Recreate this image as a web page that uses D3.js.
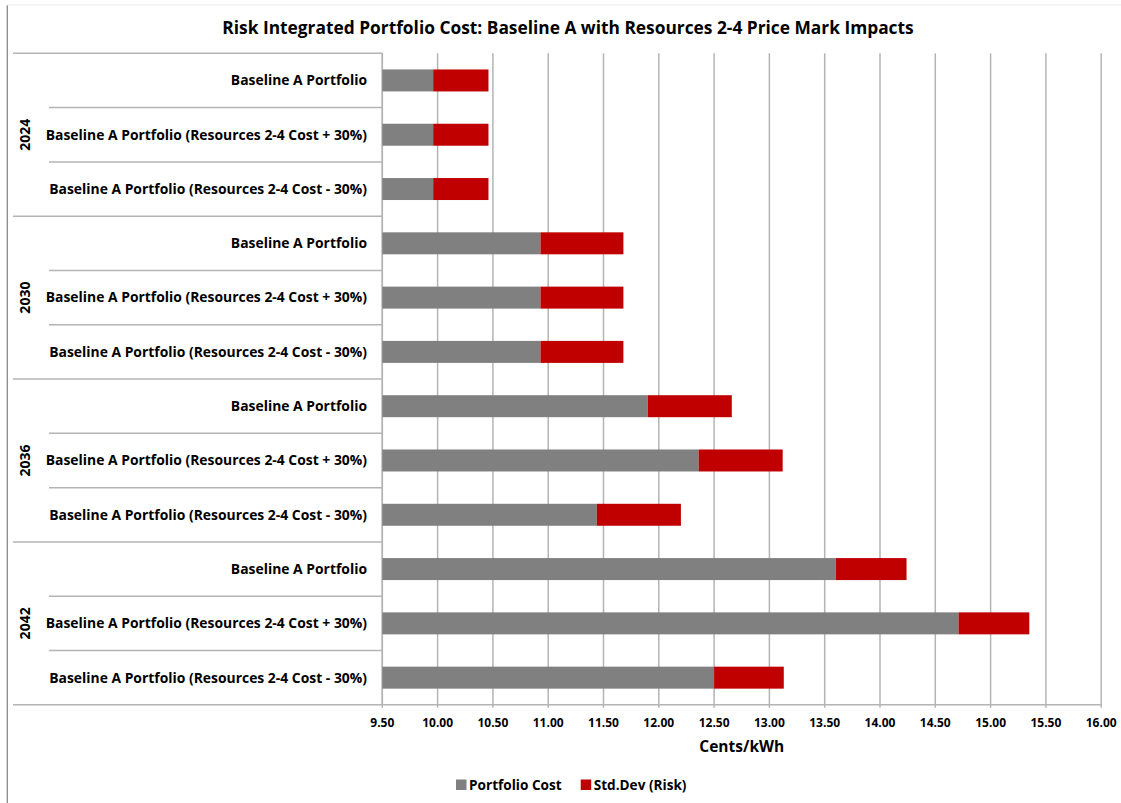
<!DOCTYPE html>
<html><head><meta charset="utf-8">
<script src="https://cdn.jsdelivr.net/npm/d3@7"></script>
<style>
body{margin:0;background:#fff;}
svg text{font-family:"Open Sans","Noto Sans",sans-serif;font-weight:bold;fill:#000;}
</style></head>
<body><svg id="c" width="1121" height="803"></svg>
<script>
const years = ["2024","2030","2036","2042"];
const scenarios = ["Baseline A Portfolio","Baseline A Portfolio (Resources 2-4 Cost + 30%)","Baseline A Portfolio (Resources 2-4 Cost - 30%)"];
const portfolioCost = [9.96,9.96,9.96, 10.93,10.93,10.93, 11.90,12.36,11.44, 13.60,14.71,12.50];
const stdDev = [0.50,0.50,0.50, 0.75,0.75,0.75, 0.76,0.76,0.76, 0.64,0.64,0.63];
const xTicks = [9.5,10,10.5,11,11.5,12,12.5,13,13.5,14,14.5,15,15.5,16];
const seriesNames = ["Portfolio Cost","Std.Dev (Risk)"];
const colors = ["#808080","#c00000"];

const rows = [];
years.forEach((y,gi)=>scenarios.forEach((s,si)=>rows.push({key:y+"|"+s,year:y,scen:s,i:gi*3+si})));

const svg = d3.select("#c");
const L=382.3, R=1101.2, T=53.3, B=704.8;
const x = d3.scaleLinear().domain([9.5,16]).range([L,R]);
const y = d3.scaleBand().domain(rows.map(r=>r.key)).range([T,B]).paddingInner(0.595).paddingOuter(0.2975);

// outer chart borders
svg.append("line").attr("x1",7.3).attr("x2",7.3).attr("y1",5).attr("y2",803).attr("stroke","#8a8a8a").attr("stroke-width",1.3);
svg.append("line").attr("x1",7).attr("x2",1121).attr("y1",5).attr("y2",5).attr("stroke","#ececec").attr("stroke-width",1);

// title
const title = svg.append("text").attr("x",568).attr("y",34).attr("text-anchor","middle").attr("font-size",17.5)
  .text("Risk Integrated Portfolio Cost: Baseline A with Resources 2-4 Price Mark Impacts");

// gridlines
svg.append("g").selectAll("line").data(xTicks).join("line")
  .attr("x1",d=>x(d)).attr("x2",d=>x(d)).attr("y1",T).attr("y2",B+3)
  .attr("stroke","#b4b4b4").attr("stroke-width",1.5);

// category lines
const step = y.step();
for(let k=0;k<=12;k++){
  const yy = T + k*step;
  const full = (k%3===0);
  svg.append("line").attr("x1",full?13:49).attr("x2",L).attr("y1",yy).attr("y2",yy)
    .attr("stroke","#b4b4b4").attr("stroke-width",1.5);
}
// y axis line
svg.append("line").attr("x1",L).attr("x2",L).attr("y1",T).attr("y2",B).attr("stroke","#b4b4b4").attr("stroke-width",1.5);
// x axis line
svg.append("line").attr("x1",L).attr("x2",R).attr("y1",B).attr("y2",B).attr("stroke","#b4b4b4").attr("stroke-width",1.5);

// bars
const stackData = rows.map(r=>({key:r.key,cost:portfolioCost[r.i],sd:stdDev[r.i]}));
const g = svg.append("g");
g.selectAll("rect.c").data(stackData).join("rect").attr("class","c")
  .attr("x",x(9.5)).attr("y",d=>y(d.key)).attr("height",y.bandwidth())
  .attr("width",d=>x(d.cost)-x(9.5)).attr("fill",colors[0]);
g.selectAll("rect.s").data(stackData).join("rect").attr("class","s")
  .attr("x",d=>x(d.cost)).attr("y",d=>y(d.key)).attr("height",y.bandwidth())
  .attr("width",d=>x(d.cost+d.sd)-x(d.cost)).attr("fill",colors[1]);

// category labels
svg.append("g").selectAll("text").data(rows).join("text")
  .attr("x",367).attr("y",d=>y(d.key)+y.bandwidth()/2).attr("dy","0.35em")
  .attr("text-anchor","end").attr("font-size",13.9).text(d=>d.scen);

// year labels
svg.append("g").selectAll("text").data(years).join("text")
  .attr("transform",(d,i)=>`translate(30,${T+(i*3+1.5)*step}) rotate(-90)`)
  .attr("text-anchor","middle").attr("font-size",14).text(d=>d);

// x tick labels
svg.append("g").selectAll("text").data(xTicks).join("text")
  .attr("x",d=>x(d)).attr("y",727).attr("text-anchor","middle").attr("font-size",12)
  .text(d=>d3.format(".2f")(d));

svg.append("text").attr("x",(L+R)/2).attr("y",752).attr("text-anchor","middle").attr("font-size",15.5).text("Cents/kWh");

// legend
const leg = svg.append("g");
const legX = [456,580.7];
seriesNames.forEach((n,i)=>{
  leg.append("rect").attr("x",legX[i]).attr("y",779.5).attr("width",10.5).attr("height",10.5).attr("fill",colors[i]);
  leg.append("text").attr("x",legX[i]+13).attr("y",790).attr("font-size",13.6).text(n);
});

function fit(sel,w){ sel.each(function(){ const l=this.getComputedTextLength(); if(l>w){ const fs=parseFloat(d3.select(this).attr("font-size")); d3.select(this).attr("font-size",fs*w/l);} }); }
fit(title,692);
</script></body></html>
